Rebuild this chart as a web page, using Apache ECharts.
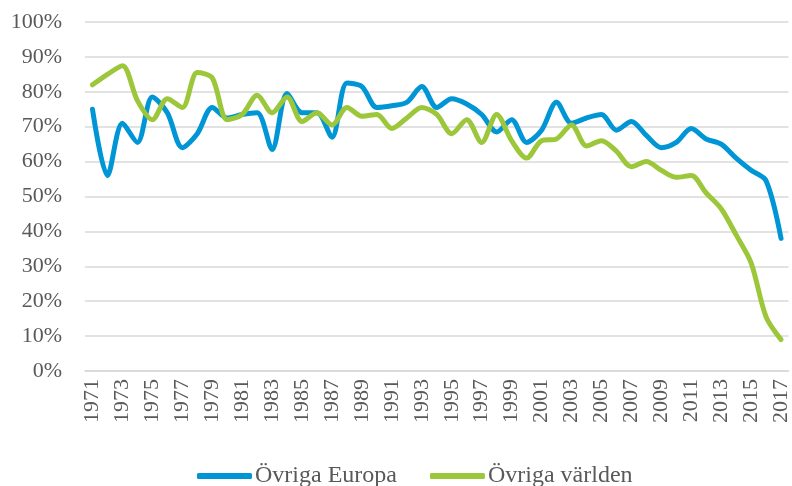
<!DOCTYPE html>
<html>
<head>
<meta charset="utf-8">
<script src="https://cdn.jsdelivr.net/npm/echarts@6/dist/echarts.min.js"></script>
<style>
  html, body { margin: 0; padding: 0; background: #fff; }
  #chart { width: 792px; height: 486px; }
</style>
</head>
<body>
<div id="chart"></div>
<script>
const years = []
for (let y = 1971; y <= 2017; y++) years.push(String(y))

const europa = [
  75, 56, 71, 65.5, 78.5, 74, 64, 68, 75.5, 72.5,
  73.5, 74, 63.5, 79.5, 74, 74, 67, 82.5, 81.5, 75.5,
  76, 77, 81.5, 75.5, 78, 76.5, 73.5, 68.5, 72, 65.5,
  69, 77, 71, 72.5, 73.5, 69, 71.5, 67.5, 64, 65.5,
  69.5, 66.5, 65, 61, 57.5, 54.5, 38
]

const varlden = [
  82, 85, 87.5, 77.5, 72, 78, 75.5, 85.5, 84, 72,
  73.5, 79, 74, 78.5, 71.5, 74, 70.5, 75.5, 73, 73.5,
  69.5, 72.5, 75.5, 73.5, 68, 72, 65.5, 73.5, 66, 61,
  66, 66.5, 70.5, 64.5, 66, 63, 58.5, 60, 57.5, 55.5,
  56, 51, 46.5, 39, 31, 15.5, 9
]

const seriesNames = ['Övriga Europa', 'Övriga världen']
const colors = ['#0096d6', '#9dc73b']

const font = 'Liberation Serif'
const textColor = '#595959'

const chart = echarts.init(document.getElementById('chart'))
chart.setOption({
  animation: false,
  color: colors,
  grid: {
    left: 85,
    right: 0,
    top: 22,
    bottom: 115
  },
  legend: {
    top: 459,
    left: 192,
    icon: 'roundRect',
    itemWidth: 55,
    itemHeight: 6,
    itemGap: 33,
    textStyle: {
      fontFamily: font,
      fontSize: 24,
      color: textColor,
      padding: [0, 0, 0, -2]
    },
    data: seriesNames
  },
  xAxis: {
    type: 'category',
    data: years,
    boundaryGap: true,
    axisLine: {
      lineStyle: { color: '#d9d9d9', width: 1.5 }
    },
    axisTick: { show: false },
    axisLabel: {
      rotate: 90,
      interval: 1,
      margin: 8,
      fontFamily: font,
      fontSize: 22,
      color: textColor
    }
  },
  yAxis: {
    type: 'value',
    min: 0,
    max: 100,
    interval: 10,
    axisLine: { show: false },
    axisTick: { show: false },
    axisLabel: {
      margin: 23,
      fontFamily: font,
      fontSize: 22,
      color: textColor,
      formatter: '{value}%'
    },
    splitLine: {
      lineStyle: { color: '#d9d9d9', width: 1.5 }
    }
  },
  series: [
    {
      name: seriesNames[0],
      type: 'line',
      data: europa,
      smooth: 0.3,
      symbol: 'none',
      lineStyle: { width: 5, cap: 'round', join: 'round' }
    },
    {
      name: seriesNames[1],
      type: 'line',
      data: varlden,
      smooth: 0.3,
      symbol: 'none',
      lineStyle: { width: 5, cap: 'round', join: 'round' }
    }
  ]
})
</script>
</body>
</html>
